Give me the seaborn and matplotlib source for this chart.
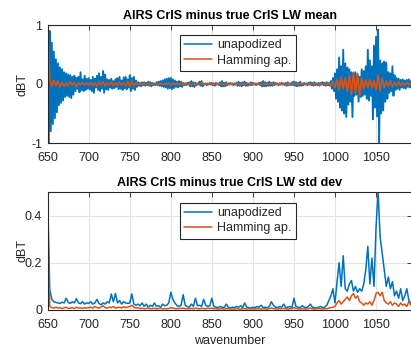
import numpy as np
import pandas as pd
import matplotlib
matplotlib.use("Agg")
import matplotlib.pyplot as plt
import seaborn as sns

# ---- data -------------------------------------------------------------
# mean difference, unapodized (hundredths of K), 1.25 cm-1 spacing from 650
mean_unapod_c = [
    120, -120, 90, -80, 70, -68, 55, -58, 42, -48, 35, -36, 28, -32, 25, -28, 20, -22, 18, -20,
    16, -22, 15, -24, 12, -18, 14, -12, 10, -8, 12, -14, 20, -10, 8, -12, 14, -10, 9, -8,
    10, -9, 7, -12, 12, -15, 9, -6, 14, -10, 18, -12, 12, -8, 22, -15, 16, -9, 8, -10,
    7, -6, 9, -8, 5, -7, 8, -5, 10, -9, 12, -8, 6, -10, 11, -7, 12, -9, 8, -6,
    15, -12, 10, -8, 12, -10, 6, -5, 3, -3, 2, -4, 3, -2, 3, -3, 2, -2, 4, -3,
    3, -4, 2, -2, 1, -2, 3, -2, 4, -3, 5, -4, 6, -5, 8, -6, 9, -8, 10, -7,
    10, -9, 8, -7, 6, -5, 4, -6, 5, -4, 4, -5, 2, -2, 1, -2, 2, -1, 3, -4,
    5, -4, 3, -5, 2, -2, 1, -1, 4, -3, 5, -4, 1, -1, 1, -2, 1, -1, 2, -1,
    2, -2, 1, -3, 2, -1, 1, -2, 3, -4, 5, -4, 2, -4, 3, -2, 1, -1, 2, -1,
    1, -2, 1, -1, 2, -3, 4, -3, 2, -4, 3, -2, 4, -3, 2, -3, 1, -2, 3, -2,
    2, -1, 1, -2, 1, -1, 2, -2, 3, -4, 5, -4, 3, -4, 2, -3, 4, -3, 2, -3,
    3, -2, 2, -1, 1, -2, 1, -1, 2, -1, 1, -2, 2, -3, 3, -2, 1, -2, 3, -2,
    4, -3, 3, -4, 2, -3, 4, -3, 1, -2, 2, -1, 1, -2, 2, -1, 3, -2, 2, -3,
    3, -2, 1, -2, 2, -3, 2, -1, 3, -2, 2, -3, 3, -2, 1, -3, 5, -8, 10, -12,
    18, -25, 25, -30, 45, -40, 30, -45, 58, -50, 35, -56, 28, -35, 25, -30, 20, -56, 18, -20,
    20, -18, 15, -30, 12, -22, 25, -20, 22, -18, 30, -25, 58, -28, 40, -20, 30, -60, 65, -40,
    80, -55, 92, -100, 40, -50, 35, -45, 38, -30, 36, -25, 20, -15, 18, -12, 30, -20, 15, -10,
    10, -8, 9, -10, 7, -6, 8, -7, 6, -8, 7, -5, 8, -6, 5,
]

# mean difference, Hamming apodized (hundredths of K), 2.5 cm-1 spacing from 650
mean_hamm_c = [
    100, 8, -4, 6, -3, 5, -5, 3, -4, 2, -3, 4, -2, 3, -5, 2, -2, 3, -2, 2,
    -2, 3, -3, 2, -4, 3, -2, 4, -3, 2, -2, 3, -3, 2, -2, 3, -2, 2, -3, 4,
    -4, 5, -3, 2, -1, 1, -1, 1, -1, 1, -1, 1, -1, 1, -1, 1, -1, 1, -1, 2,
    -2, 2, -1, 1, -1, 1, -1, 1, -1, 1, -1, 1, -1, 1, -1, 1, -1, 1, -1, 1,
    -1, 1, -1, 1, -1, 1, -1, 1, -1, 1, -1, 1, -1, 1, -1, 1, -1, 1, -1, 1,
    -1, 1, -1, 1, -1, 1, -1, 1, -1, 1, -1, 1, -1, 1, -1, 1, -1, 1, -1, 1,
    -1, 1, -1, 1, -1, 1, -1, 1, -1, 1, -1, 1, -1, 1, -1, 1, -1, 2, -3, 4,
    -6, 8, -10, 12, -8, 10, -12, 15, -18, 20, -15, 18, -20, 10, -8, 7, -6, 8, -7, 6,
    -10, 15, -12, 10, -6, 5, -4, 6, -5, 3, -3, 4, -3, 2, -3, 3, -2, 2,
]

# std dev, unapodized (thousandths of K), 2.5 cm-1 spacing from 650
std_unapod_m = [
    470, 85, 45, 35, 32, 30, 28, 33, 30, 50, 32, 28, 35, 30, 48, 30, 27, 35, 25, 30,
    28, 35, 25, 30, 45, 28, 22, 30, 25, 35, 30, 68, 35, 70, 30, 40, 25, 35, 30, 28,
    30, 68, 25, 20, 25, 18, 30, 15, 25, 12, 20, 15, 30, 15, 18, 12, 25, 18, 20, 30,
    75, 45, 30, 18, 15, 20, 65, 20, 15, 12, 25, 15, 50, 18, 20, 15, 45, 20, 15, 18,
    50, 15, 12, 10, 15, 12, 10, 25, 12, 8, 12, 10, 15, 12, 18, 10, 30, 12, 10, 8,
    12, 10, 15, 12, 20, 10, 12, 8, 15, 35, 20, 12, 10, 15, 12, 25, 10, 12, 15, 10,
    50, 15, 12, 10, 18, 12, 10, 15, 25, 12, 10, 8, 12, 15, 10, 12, 20, 40, 60, 90,
    30, 120, 200, 100, 230, 90, 80, 110, 125, 80, 100, 75, 90, 80, 110, 170, 270, 110, 220, 100,
    350, 500, 310, 240, 170, 100, 140, 90, 120, 60, 80, 50, 90, 40, 60, 90, 40, 30,
]

# std dev, Hamming apodized (thousandths of K), 2.5 cm-1 spacing from 650
std_hamm_m = [
    300, 15, 10, 8, 12, 8, 10, 6, 9, 12, 7, 8, 10, 6, 12, 8, 9, 7, 10, 8,
    10, 12, 8, 15, 10, 8, 12, 18, 10, 8, 12, 10, 15, 8, 10, 12, 9, 14, 10, 12,
    15, 20, 12, 8, 10, 6, 8, 5, 6, 8, 5, 6, 7, 5, 6, 8, 5, 6, 5, 7,
    10, 8, 6, 5, 7, 6, 8, 5, 6, 5, 7, 5, 8, 6, 5, 7, 6, 5, 8, 6,
    8, 5, 6, 4, 5, 6, 4, 5, 6, 4, 5, 4, 6, 5, 4, 5, 6, 4, 5, 4,
    5, 4, 6, 5, 4, 6, 5, 4, 6, 8, 6, 5, 4, 6, 5, 7, 5, 4, 6, 5,
    10, 6, 5, 4, 6, 5, 4, 6, 8, 5, 4, 5, 6, 5, 4, 6, 5, 8, 10, 12,
    15, 30, 40, 25, 35, 45, 55, 40, 60, 70, 50, 60, 35, 30, 20, 30, 25, 35, 20, 40,
    70, 75, 60, 75, 40, 30, 25, 35, 20, 30, 25, 15, 30, 20, 25, 15, 35, 20,
]

series_labels = ["unapodized", "Hamming ap."]
titles = ["AIRS CrIS minus true CrIS LW mean", "AIRS CrIS minus true CrIS LW std dev"]
x_ticks = [650, 700, 750, 800, 850, 900, 950, 1000, 1050]

# ---- build frames -----------------------------------------------------
def frame(values, step, scale, label):
    v = np.asarray(values, dtype=float) / scale
    return pd.DataFrame({"wn": 650 + step * np.arange(len(v)), "dBT": v, "run": label})

mean_frames = [frame(mean_unapod_c, 1.25, 100, series_labels[0]),
               frame(mean_hamm_c, 2.5, 100, series_labels[1])]
std_frames = [frame(std_unapod_m, 2.5, 1000, series_labels[0]),
              frame(std_hamm_m, 2.5, 1000, series_labels[1])]

# ---- figure -----------------------------------------------------------
sns.set_theme(style="white")
plt.rcParams["font.family"] = ["Liberation Sans", "DejaVu Sans"]

W, H = 411, 348
fig = plt.figure(figsize=(W / 100, H / 100), dpi=100)
left, right = 47.7, 411.5
ax1 = fig.add_axes([left / W, 1 - 143 / H, (right - left) / W, 118 / H])
ax2 = fig.add_axes([left / W, 1 - 310 / H, (right - left) / W, 118 / H])

colors = ["#0072BD", "#D95319"]
ink = "#262626"

for ax, frames, widths in ((ax1, mean_frames, (1.35, 1.2)), (ax2, std_frames, (1.1, 1.1))):
    for df, c, lw in zip(frames, colors, widths):
        sns.lineplot(data=df, x="wn", y="dBT", ax=ax, color=c, linewidth=lw,
                     label=df["run"].iloc[0], estimator=None, sort=False)

ax1.set_ylim(-1, 1)
ax1.set_yticks([-1, 0, 1])
ax1.set_yticklabels(["-1", "0", "1"])
ax2.set_ylim(0, 0.5)
ax2.set_yticks([0, 0.2, 0.4])
ax2.set_yticklabels(["0", "0.2", "0.4"])

for ax, title, leg_y in ((ax1, titles[0], 0.915), (ax2, titles[1], 0.907)):
    ax.set_xlim(650, 1093.2)
    ax.set_xticks(x_ticks)
    ax.set_title(title, fontsize=9, fontweight="bold", color="black", pad=4)
    ax.grid(True, color="#e3e3e3", linewidth=0.8)
    ax.set_axisbelow(True)
    ax.tick_params(direction="in", top=True, right=True, length=3.5, width=0.6,
                   colors=ink, labelsize=9)
    ax.tick_params(axis="x", pad=6.5)
    ax.tick_params(axis="y", pad=4)
    for s in ax.spines.values():
        s.set_color(ink)
        s.set_linewidth(0.8)
    ax.set_ylabel("dBT", fontsize=9, color=ink)
    ax.yaxis.set_label_coords(-0.054, 0.5)
    ax.set_xlabel("")
    leg = ax.legend(loc="upper left", bbox_to_anchor=(0.364, leg_y), frameon=True,
                    fancybox=False, edgecolor=ink, framealpha=1, fontsize=9,
                    handlelength=2.2, handletextpad=0.4, borderpad=0.35,
                    labelspacing=0.25, borderaxespad=0)
    leg.get_frame().set_linewidth(0.8)
    for line in leg.get_lines():
        line.set_linewidth(1.1)
    for t in leg.get_texts():
        t.set_color(ink)

ax2.set_xlabel("wavenumber", fontsize=9, color=ink, labelpad=3)

fig.savefig("out.png", dpi=100)
